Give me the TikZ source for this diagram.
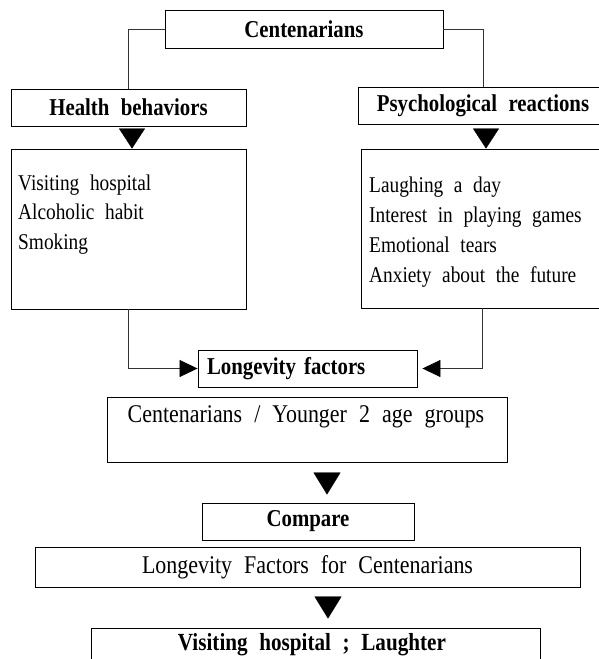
\documentclass[tikz,border=0pt]{standalone}
\usepackage{fontspec}
\setmainfont{Liberation Serif}[FakeStretch=0.86,WordSpace=2.2]
\usetikzlibrary{arrows.meta}
\begin{document}
\begin{tikzpicture}[x=1pt,y=-1pt,
  box/.style={draw=black, line width=0.9pt, inner sep=0pt, rectangle},
  conn/.style={draw=black!80, line width=0.8pt},
  hdr/.style={font=\bfseries\fontsize{24.2}{28}\selectfont},
  txt/.style={font=\fontsize{22.5}{27}\selectfont, inner sep=0pt, anchor=base west},
  vtri/.style={line width=0.3pt, -{Triangle[length=20pt,width=26pt]}},
  vtrib/.style={line width=0.3pt, -{Triangle[length=22pt,width=27pt]}},
  htri/.style={conn, -{Triangle[length=18pt,width=17pt,color=black]}}
]
\useasboundingbox (0,0) rectangle (599,659);
\clip (0,0) rectangle (599,659);

% boxes
\node[box, hdr, minimum width=278pt, minimum height=38pt] (cent) at (304,29) {Centenarians};
\node[box, hdr, minimum width=235pt, minimum height=37pt] (health) at (128.5,107.5) {Health behaviors};
\node[box, hdr, minimum width=249pt, minimum height=37pt] (psych) at (483,105.5) {Psychological reactions};
\node[box, minimum width=235pt, minimum height=160pt] (hcontent) at (128.5,229) {};
\node[box, minimum width=242pt, minimum height=159pt] (pcontent) at (482,228.5) {};
\node[box, hdr, inner xsep=9pt, text width=201pt, align=left, minimum height=37pt] (longf) at (307.5,368.5) {Longevity factors};
\node[box, minimum width=400pt, minimum height=65pt] (younger) at (307,429.5) {};
\node[box, hdr, minimum width=212pt, minimum height=37pt] (compare) at (308,521.5) {Compare};
\node[box, font=\fontsize{25.5}{29}\selectfont, minimum width=545pt, minimum height=40pt] (longfc) at (307.5,567) {Longevity Factors for Centenarians};
\node[box, minimum width=449pt, minimum height=72pt] (visit) at (315.5,664) {};

% texts inside boxes
\node[txt] (h1) at (18,190) {Visiting hospital};
\node[txt] (h2) at (18,219.5) {Alcoholic habit};
\node[txt] (h3) at (18,249) {Smoking};
\node[txt] (p1) at (369,192) {Laughing a day};
\node[txt] (p2) at (369,222) {Interest in playing games};
\node[txt] (p3) at (369,252) {Emotional tears};
\node[txt] (p4) at (369,282) {Anxiety about the future};
\node[inner sep=0pt, anchor=base, font=\fontsize{25.5}{29}\selectfont] (ytxt) at (306,422) {Centenarians / Younger 2 age groups};
\node[inner sep=0pt, anchor=base, font=\bfseries\fontsize{24.6}{29}\selectfont] (vtxt) at (312,650) {Visiting hospital ; Laughter};

% connectors
\draw[conn] (cent.west) -| (health.north);
\draw[conn] (cent.east) -| (psych.north);
\draw[vtri, shorten <=3pt] ([xshift=3.5pt]health.south) -- ([xshift=3.5pt]hcontent.north);
\draw[vtri, shorten <=5pt] ([xshift=3pt]psych.south) -- ([xshift=4pt]pcontent.north);
\draw[htri] (hcontent.south) |- (longf.west);
\draw[htri] (pcontent.south) |- ([xshift=5pt]longf.east);
\draw[vtrib, shorten <=11pt, shorten >=8pt] ([xshift=20pt]younger.south) -- ([xshift=19pt]compare.north);
\draw[vtrib, shorten <=10pt, shorten >=9pt] ([xshift=20.5pt]longfc.south) -- ([xshift=12.5pt]visit.north);
\end{tikzpicture}
\end{document}
